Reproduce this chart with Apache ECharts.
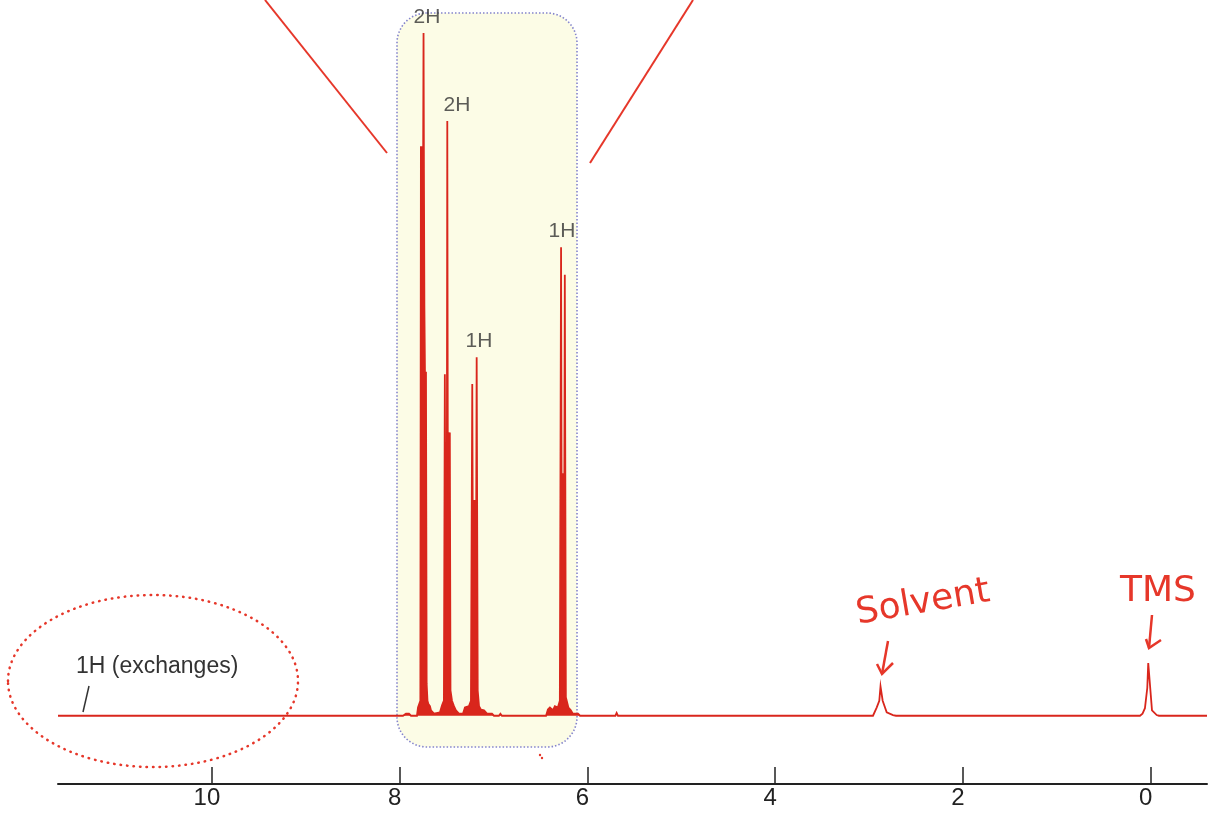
<!DOCTYPE html>
<html>
<head>
<meta charset="utf-8">
<script src="https://cdn.jsdelivr.net/npm/echarts@6/dist/echarts.min.js"></script>
<style>
  html, body { margin: 0; padding: 0; background: #ffffff; }
  #chart { width: 1209px; height: 813px; }
</style>
</head>
<body>
<div id="chart"></div>
<script>
// Chemical shift (ppm) of each vertex of the drawn trace
const spectrumPPM = [
  11.64, 7.965, 7.933, 7.901, 7.880, 7.816, 7.805, 7.790,
  7.780, 7.774, 7.768, 7.763, 7.757, 7.750, 7.746, 7.742, 7.737, 7.731, 7.726, 7.720, 7.713,
  7.704, 7.694, 7.678, 7.667, 7.646, 7.635, 7.624, 7.571, 7.550,
  7.529, 7.519, 7.512, 7.505, 7.498, 7.493, 7.488, 7.482, 7.477, 7.471, 7.466, 7.459,
  7.443, 7.422, 7.401, 7.369, 7.326, 7.305, 7.262,
  7.241, 7.227, 7.221, 7.216, 7.210, 7.204, 7.198, 7.192, 7.186, 7.180, 7.169,
  7.155, 7.134, 7.102, 7.070, 7.017, 6.996, 6.943, 6.927, 6.911, 6.441, 6.421, 6.400, 6.368, 6.347, 6.315,
  6.294, 6.281, 6.275, 6.269, 6.263, 6.258, 6.252, 6.246, 6.241, 6.230,
  6.214, 6.203, 6.177, 6.156, 6.100, 6.079, 5.702, 5.689, 5.675,
  2.958, 2.919, 2.891, 2.878, 2.868, 2.855, 2.812, 2.745, 2.713,
  0.114, 0.087, 0.061, 0.036, 0.026, 0.015, 0.005, -0.014, -0.064, -0.088, -0.60
];
// Relative intensity at each vertex (tallest line = 100)
const spectrumIntensity = [
  0, 0, 0.3, 0.3, 0, 0, 1.2, 1.2,
  2.2, 83.4, 75, 83.4, 75, 83, 100, 80, 60, 50.4, 45, 50.4, 4.7,
  2.2, 1.7, 1.4, 0.8, 0.8, 0.3, 0.5, 0.5, 1.5,
  2.2, 50.0, 20, 40, 30, 87.1, 41.5, 38, 41.5, 38, 41.5, 3.7,
  2.2, 1.4, 0.8, 0.3, 0.3, 1.2, 1.4,
  2.2, 48.6, 25, 31.6, 25, 31.6, 25, 31.6, 25, 52.5, 3.7,
  1.4, 0.9, 0.8, 0.3, 0.3, 0, 0, 0.3, 0, 0, 0.9, 1.2, 0.8, 1.4, 1.2,
  2.2, 68.6, 30, 35.5, 30, 35.5, 30, 35.5, 64.6, 2.7,
  2.7, 1.2, 0.8, 0.3, 0.3, 0, 0, 0.4, 0,
  0, 1.2, 2.2, 4.3, 4.3, 2.2, 0.5, 0.1, 0,
  0, 0.3, 1.1, 4.1, 7.7, 7.7, 4.1, 0.8, 0.1, 0, 0
];
// Aromatic window whose unresolved multiplet columns are drawn solid
const filledRange = [6.079, 7.965];
// Integration labels
const labelText = ['2H', '2H', '1H', '1H'];
const labelPPM = [7.71, 7.39, 7.156, 6.271];
const labelIntensity = [100, 87.1, 52.5, 68.6];
// Axis tick values (ppm)
const tickValues = [0, 2, 4, 6, 8, 10];
const axisMin = -0.60;
const axisMax = 11.64;

const traceData = spectrumPPM.map((p, i) => [p, spectrumIntensity[i]]);
const filledData = traceData.filter(d => d[0] >= filledRange[0] && d[0] <= filledRange[1]);
const labelData = labelText.map((t, i) => ({ name: t, value: [labelPPM[i], labelIntensity[i]] }));

const RED = '#e6372a';
const TRACE = '#d9261c';
const chart = echarts.init(document.getElementById('chart'), null, { renderer: 'canvas' });
chart.setOption({
  animation: false,
  backgroundColor: '#ffffff',
  grid: { left: 58, right: 2, top: 33, bottom: 29, containLabel: false },
  xAxis: {
    type: 'value',
    inverse: true,
    min: axisMin,
    max: axisMax,
    splitLine: { show: false },
    axisLine: { show: true, onZero: false, lineStyle: { color: '#222', width: 2 } },
    axisTick: { show: true, inside: true, length: 17, customValues: tickValues, lineStyle: { color: '#222', width: 1.5 } },
    axisLabel: {
      show: true, customValues: tickValues, margin: 2, fontSize: 24,
      fontFamily: 'Liberation Sans, Arial, sans-serif', color: '#222',
      padding: [0, 10, 0, 0]
    }
  },
  yAxis: {
    type: 'value', min: -10, max: 100, show: false,
    splitLine: { show: false }
  },
  graphic: [
    { type: 'rect', z: 0, shape: { x: 397, y: 13, width: 180, height: 734, r: 30 },
      style: { fill: '#fcfce6', stroke: '#8484cc', lineWidth: 1.6, lineDash: [1.5, 2] } },
    { type: 'line', z: 10, shape: { x1: 265, y1: 0, x2: 387, y2: 153 }, style: { stroke: RED, lineWidth: 2 } },
    { type: 'line', z: 10, shape: { x1: 693, y1: 0, x2: 590, y2: 163 }, style: { stroke: RED, lineWidth: 2 } },
    { type: 'ellipse', z: 10, shape: { cx: 153, cy: 681, rx: 145, ry: 86 },
      style: { fill: 'none', stroke: RED, lineWidth: 2.5, lineDash: [0.5, 6], lineCap: 'round' } },
    { type: 'text', z: 10, style: { x: 76, y: 667, text: '1H (exchanges)', fontSize: 23,
      fontFamily: 'Liberation Sans, Arial, sans-serif', fill: '#333', verticalAlign: 'middle', align: 'left' } },
    { type: 'line', z: 10, shape: { x1: 89, y1: 686, x2: 83, y2: 712 }, style: { stroke: '#333', lineWidth: 1.5 } },
    { type: 'circle', z: 10, shape: { cx: 540, cy: 755, r: 1.2 }, style: { fill: RED } },
    { type: 'circle', z: 10, shape: { cx: 542, cy: 758, r: 1.2 }, style: { fill: RED } },
    { type: 'text', z: 10, x: 923, y: 603, rotation: 0.17,
      style: { x: 0, y: 0, text: 'Solvent', fontSize: 36, fontFamily: 'DejaVu Sans, sans-serif',
        fontWeight: 'normal', fill: RED, align: 'center', verticalAlign: 'middle' } },
    { type: 'polyline', z: 10, shape: { points: [[888, 641], [882, 674]] }, style: { stroke: RED, lineWidth: 2.5, fill: 'none' } },
    { type: 'polyline', z: 10, shape: { points: [[877, 664], [882, 674], [893, 663]] }, style: { stroke: RED, lineWidth: 2.5, fill: 'none' } },
    { type: 'text', z: 10, x: 1158, y: 592,
      style: { x: 0, y: 0, text: 'TMS', fontSize: 36, fontFamily: 'DejaVu Sans, sans-serif',
        fill: RED, align: 'center', verticalAlign: 'middle' } },
    { type: 'polyline', z: 10, shape: { points: [[1152, 615], [1149, 648]] }, style: { stroke: RED, lineWidth: 2.5, fill: 'none' } },
    { type: 'polyline', z: 10, shape: { points: [[1146, 639], [1149, 648], [1161, 640]] }, style: { stroke: RED, lineWidth: 2.5, fill: 'none' } }
  ],
  series: [
    {
      type: 'line', data: filledData, showSymbol: false, symbol: 'none', clip: false, z: 2,
      lineStyle: { width: 0, opacity: 0 },
      areaStyle: { color: TRACE, opacity: 1 },
      silent: true
    },
    {
      type: 'line', data: traceData, showSymbol: false, symbol: 'none', clip: false, z: 3,
      lineStyle: { color: TRACE, width: 1.8, join: 'miter' }
    },
    {
      type: 'scatter', data: labelData, symbolSize: 1, z: 4,
      itemStyle: { color: 'rgba(0,0,0,0)' },
      label: { show: true, position: 'top', distance: 5, formatter: '{b}', fontSize: 21,
        fontFamily: 'Liberation Sans, Arial, sans-serif', color: '#333' }
    }
  ]
});
</script>
</body>
</html>
